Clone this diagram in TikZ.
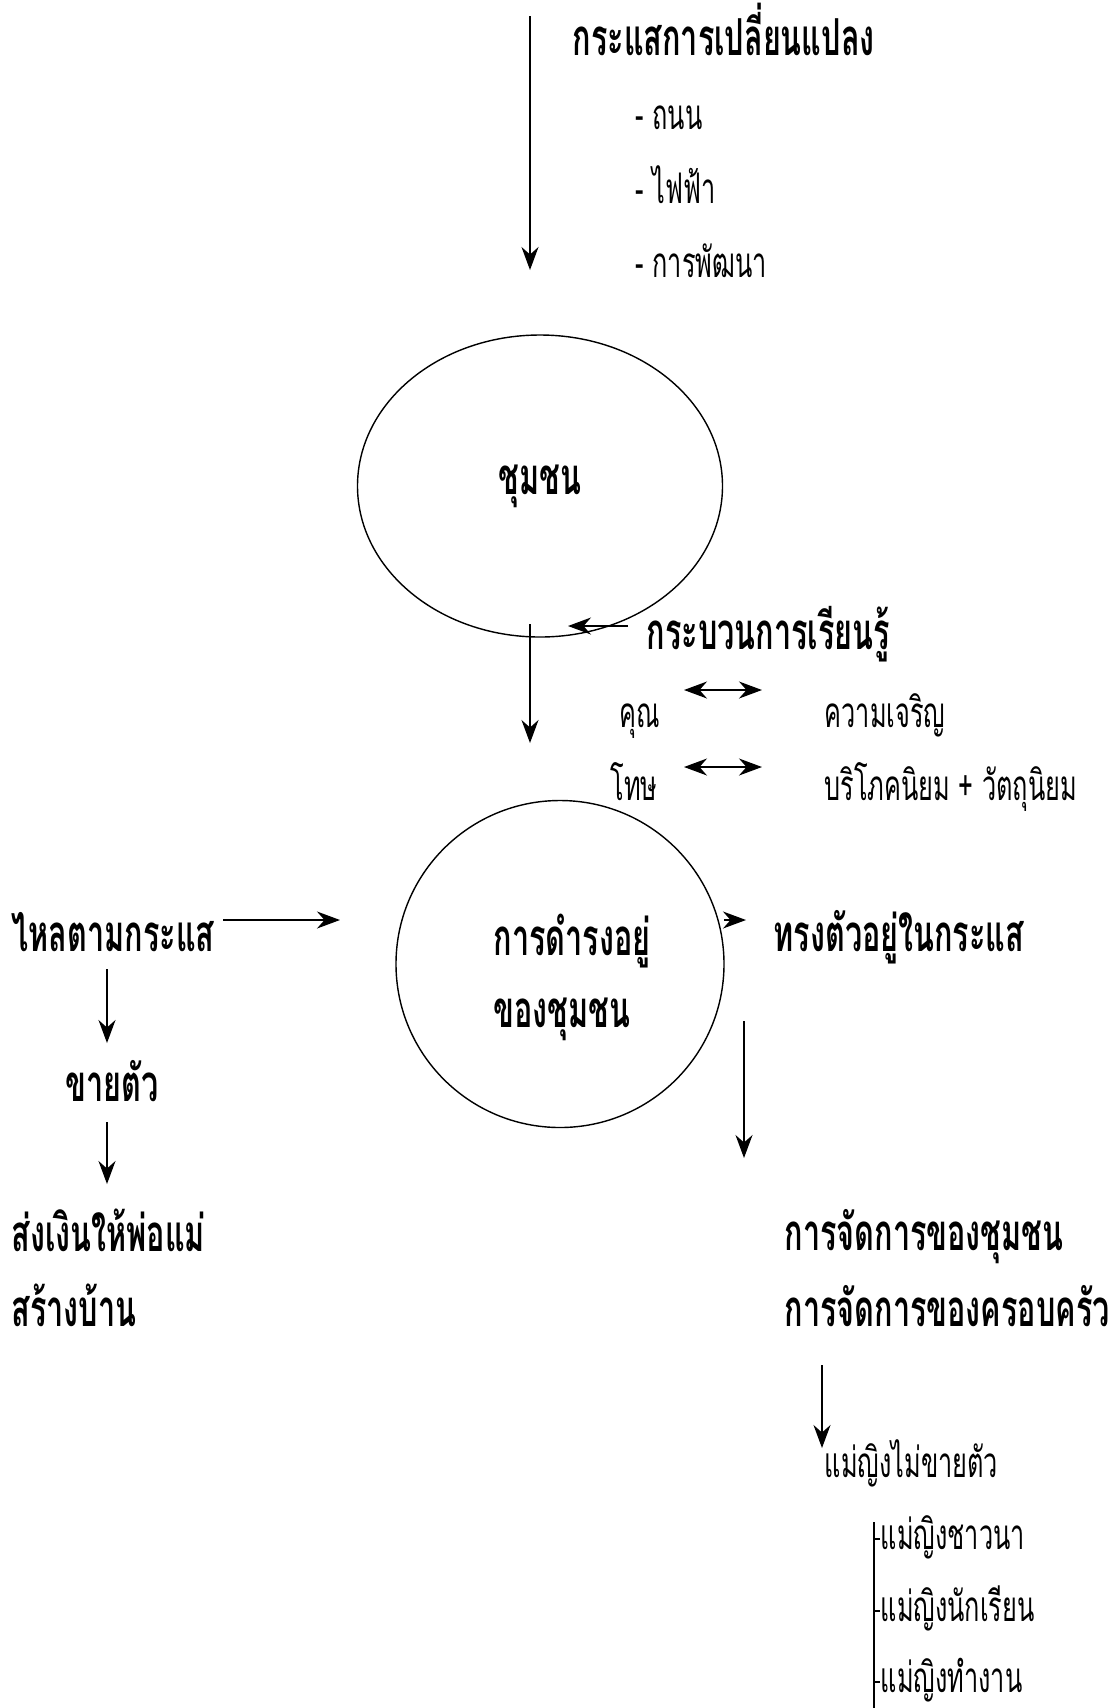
\documentclass[tikz,border=0pt]{standalone}
\usepackage{fontspec}
\newfontfamily\thaifont[Script=Thai,FakeStretch=0.6]{Loma}
\usetikzlibrary{arrows.meta,shapes.geometric}

\tikzset{
  >={Stealth[length=2.3mm,width=1.7mm]},
  txt/.style={anchor=west, inner sep=0pt, text height=0.2cm, text depth=0pt,
    font=\thaifont\fontsize{12}{14}\selectfont},
  heavy/.style={anchor=west, inner sep=0pt, text height=0.25cm, text depth=0pt,
    font=\thaifont\bfseries\fontsize{14.5}{16}\selectfont},
  blob/.style={draw, ellipse, inner sep=0pt},
}

\begin{document}
\begin{tikzpicture}
  \useasboundingbox (0,0) rectangle (11.14,-17.08);

  % Stream of change
    \coordinate (flowA) at (5.30,-0.16);
    \coordinate (flowB) at (5.30,-2.70);
    \draw[->] (flowA) -- (flowB);
    \node[heavy] (stream) at (5.72,-0.43) {กระแสการเปลี่ยนแปลง};
    \node[txt] (road) at (6.35,-1.19) {- ถนน};
    \node[txt] (power) at (6.35,-1.93) {- ไฟฟ้า};
    \node[txt] (devel) at (6.35,-2.67) {- การพัฒนา};

  % Community
    \node[blob, minimum width=3.65cm, minimum height=3.02cm,
          font=\thaifont\bfseries\fontsize{14.5}{16}\selectfont] (village) at (5.40,-4.86) {ชุมชน};

  % Learning
    \coordinate (learnA) at (5.30,-6.24);
    \coordinate (learnB) at (5.30,-7.43);
    \draw[->] (learnA) -- (learnB);
    \coordinate (backA) at (6.28,-6.26);
    \coordinate (backB) at (5.68,-6.26);
    \draw[->] (backA) -- (backB);
    \node[heavy] (learn) at (6.46,-6.37) {กระบวนการเรียนรู้};
    \node[txt] (merit) at (6.19,-7.17) {คุณ};
    \node[txt] (growth) at (8.24,-7.17) {ความเจริญ};
    \node[txt] (harm) at (6.10,-7.90) {โทษ};
    \node[txt] (consume) at (8.24,-7.90) {บริโภคนิยม + วัตถุนิยม};
    \coordinate (pairA) at (6.84,-6.90);
    \coordinate (pairB) at (7.62,-6.90);
    \draw[<->] (pairA) -- (pairB);
    \coordinate (pairC) at (6.84,-7.67);
    \coordinate (pairD) at (7.62,-7.67);
    \draw[<->] (pairC) -- (pairD);

  % Existence of the community
    \node[blob, minimum width=3.28cm, minimum height=3.27cm] (exist) at (5.60,-9.64) {};
    \node[heavy] (existA) at (4.93,-9.43) {การดำรงอยู่};
    \node[heavy] (existB) at (4.93,-10.15) {ของชุมชน};

  % Left branch
    \node[heavy] (drift) at (0.11,-9.39) {ไหลตามกระแส};
    \coordinate (driftA) at (2.23,-9.20);
    \coordinate (driftB) at (3.40,-9.20);
    \draw[->] (driftA) -- (driftB);
    \node[heavy, anchor=center] (sell) at (1.12,-10.89) {ขายตัว};
    \coordinate (sellA) at (1.07,-9.69);
    \coordinate (sellB) at (1.07,-10.43);
    \draw[->] (sellA) -- (sellB);
    \coordinate (sendA) at (1.07,-11.22);
    \coordinate (sendB) at (1.07,-11.84);
    \draw[->] (sendA) -- (sendB);
    \node[heavy] (send) at (0.11,-12.39) {ส่งเงินให้พ่อแม่};
    \node[heavy] (house) at (0.11,-13.14) {สร้างบ้าน};

  % Right branch
    \coordinate (keepA) at (7.24,-9.20);
    \coordinate (keepB) at (7.46,-9.20);
    \draw[->] (keepA) -- (keepB);
    \node[heavy] (keep) at (7.73,-9.39) {ทรงตัวอยู่ในกระแส};
    \coordinate (manA) at (7.44,-10.21);
    \coordinate (manB) at (7.44,-11.58);
    \draw[->] (manA) -- (manB);
    \node[heavy] (mancom) at (7.84,-12.38) {การจัดการของชุมชน};
    \node[heavy] (manfam) at (7.84,-13.14) {การจัดการของครอบครัว};
    \coordinate (womA) at (8.22,-13.65);
    \coordinate (womB) at (8.22,-14.48);
    \draw[->] (womA) -- (womB);
    \node[txt] (nosell) at (8.24,-14.67) {แม่ญิงไม่ขายตัว};

  % Women list
    \coordinate (listA) at (8.74,-15.22);
    \coordinate (listB) at (8.74,-17.08);
    \draw[thick] (listA) -- (listB);
    \node[txt] (farmer) at (8.80,-15.39) {แม่ญิงชาวนา};
    \node[txt] (pupil) at (8.80,-16.11) {แม่ญิงนักเรียน};
    \node[txt] (worker) at (8.80,-16.82) {แม่ญิงทำงาน};
    \foreach \w in {farmer,pupil,worker} {
      \draw (8.74,0 |- \w.west) -- (\w.west);
    }

\end{tikzpicture}
\end{document}
